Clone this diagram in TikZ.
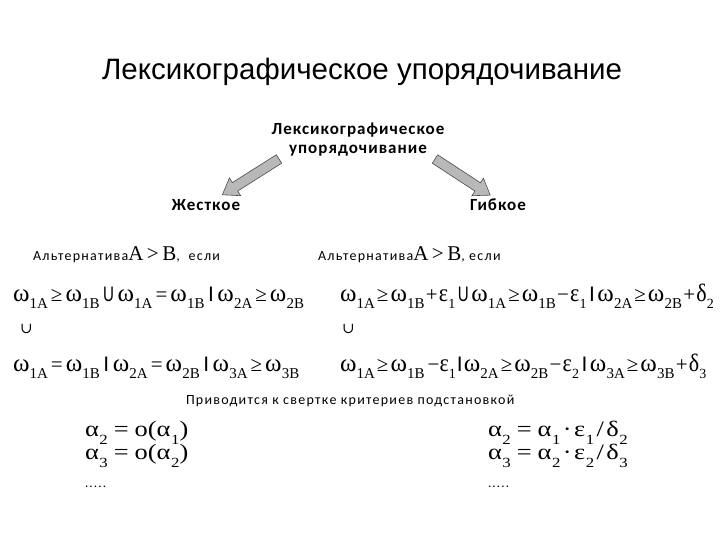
\documentclass[tikz,border=0pt]{standalone}
\usepackage{fontspec}
\setmainfont{Liberation Serif}
\newfontfamily\arialf{Liberation Sans}
\newfontfamily\calf{Carlito}
\newfontfamily\calsp{Carlito}[LetterSpace=9]
\newfontfamily\tmsf{Liberation Serif}
\newfontfamily\djv{DejaVu Serif}
\newcommand\wsb[2]{#1\kern0.2pt\raisebox{-0.3em}{\fontsize{15}{15}\selectfont #2}}
\newcommand\wv[1]{\wsb{ω}{#1}}
\newcommand\nsb[2]{\scalebox{0.88}[1]{#1}\kern0.2pt\raisebox{-0.3em}{\fontsize{14}{14}\selectfont #2}}
\newcommand\rel[1]{\kern3pt{\fontsize{21}{21}\selectfont #1}\kern3pt}
\newcommand\rrel[1]{\kern2pt{\fontsize{21}{21}\selectfont #1}\kern2pt}
\newcommand\plmi[1]{\kern1.2pt{\fontsize{21}{21}\selectfont #1}\kern1.2pt}
\newcommand\capU{\kern3.5pt\scalebox{0.72}[1]{\arialf\fontsize{21}{21}\selectfont U}\kern3.5pt}
\newcommand\capI{\kern3.5pt{\arialf\fontsize{21}{21}\selectfont I}\kern3.5pt}
\newcommand\rcapU{\kern2.5pt\scalebox{0.72}[1]{\arialf\fontsize{21}{21}\selectfont U}\kern2.5pt}
\newcommand\rcapI{\kern2.5pt{\arialf\fontsize{21}{21}\selectfont I}\kern2.5pt}
\newcommand\asb[2]{#1\kern0.5pt\raisebox{-0.4em}{\fontsize{14}{14}\selectfont #2}}
\newcommand\arel[1]{\kern5pt#1\kern5pt}
\newcommand\aop[1]{\kern2pt#1\kern2pt}
\begin{document}
\begin{tikzpicture}[x=1pt,y=-1pt,
  every node/.style={inner sep=0pt,outer sep=0pt},
  titlest/.style={font=\arialf\fontsize{29.5}{34}\selectfont},
  headst/.style={font=\calf\bfseries\addfontfeature{LetterSpace=6}\fontsize{17}{20}\selectfont, align=center},
  smallst/.style={font=\calsp\fontsize{14}{16}\selectfont, anchor=base west},
  mathst/.style={font=\tmsf\fontsize{25}{30}\selectfont, anchor=base west},
  alphast/.style={font=\tmsf\fontsize{22}{26}\selectfont, anchor=base west},
  blockarrow/.style={draw=black!70, fill=black!28, line width=0.6pt, line join=miter}]
\useasboundingbox[fill=white] (0,0) rectangle (720,540);
\node[titlest, anchor=base] (title) at (362,80) {Лексикографическое упорядочивание};
\node[headst, anchor=base] (sub1) at (358,135) {Лексикографическое};
\node[headst, anchor=base] (sub2) at (358,154) {упорядочивание};
\node[headst, anchor=base] (hard) at (206,211) {Жесткое};
\node[headst, anchor=base] (soft) at (498,211) {Гибкое};
\begin{scope}[shift={(279,159)}, rotate=212.3, x=1pt, y=1pt]
  \draw[blockarrow] (0,-5) -- (52,-5) -- (52,-10.5) -- (67,0) -- (52,10.5) -- (52,5) -- (0,5) -- cycle;
\end{scope}
\begin{scope}[shift={(435,159)}, rotate=-33.2, x=1pt, y=1pt]
  \draw[blockarrow] (0,-5) -- (51,-5) -- (51,-10.5) -- (66,0) -- (51,10.5) -- (51,5) -- (0,5) -- cycle;
\end{scope}
\node[smallst] (altL) at (33,260) {Альтернатива{\tmsf\fontsize{21}{21}\selectfont A\,>\,B},\ \ если};
\node[smallst] (altR) at (318,260) {Альтернатива{\tmsf\fontsize{21}{21}\selectfont A\,>\,B}, если};
\node[mathst] (l1) at (13,301) {\wv{1A}\rel{≥}\wv{1B}\capU\wv{1A}\rel{=}\wv{1B}\capI\wv{2A}\rel{≥}\wv{2B}};
\node[mathst] (lu) at (20,333) {{\djv\fontsize{15}{15}\selectfont ∪}};
\node[mathst] (l2) at (13,371) {\wv{1A}\rel{=}\wv{1B}\capI\wv{2A}\rel{=}\wv{2B}\capI\wv{3A}\rel{≥}\wv{3B}};
\node[mathst] (r1) at (340,301) {\wv{1A}\rrel{≥}\wv{1B}\plmi{+}\nsb{ε}{1}\rcapU\wv{1A}\rrel{≥}\wv{1B}\plmi{−}\nsb{ε}{1}\rcapI\wv{2A}\rrel{≥}\wv{2B}\plmi{+}\nsb{δ}{2}};
\node[mathst] (ru) at (342,333) {{\djv\fontsize{15}{15}\selectfont ∪}};
\node[mathst] (r2) at (340,371) {\wv{1A}\rrel{≥}\wv{1B}\kern3pt{\fontsize{21}{21}\selectfont −}\nsb{ε}{1}\kern1pt{\arialf\fontsize{21}{21}\selectfont I}\kern1pt\wv{2A}\rrel{≥}\wv{2B}\plmi{−}\nsb{ε}{2}\rcapI\wv{3A}\rrel{≥}\wv{3B}\plmi{+}\nsb{δ}{3}};
\node[smallst] (subst) at (186,404) {Приводится к свертке критериев подстановкой};
\node[alphast] (a2) at (85,436) {\scalebox{1.2}[1]{\asb{α}{2}\arel{=}o(\asb{α}{1})}};
\node[alphast] (a3) at (85,459) {\scalebox{1.2}[1]{\asb{α}{3}\arel{=}o(\asb{α}{2})}};
\node[alphast] (ad) at (85,487) {{\calsp\fontsize{13}{13}\selectfont .....}};
\node[alphast] (b2) at (488,436) {\scalebox{1.2}[1]{\asb{α}{2}\arel{=}\asb{α}{1}\aop{·}\asb{ε}{1}\aop{/}\asb{δ}{2}}};
\node[alphast] (b3) at (488,459) {\scalebox{1.2}[1]{\asb{α}{3}\arel{=}\asb{α}{2}\aop{·}\asb{ε}{2}\aop{/}\asb{δ}{3}}};
\node[alphast] (bd) at (488,487) {{\calsp\fontsize{13}{13}\selectfont .....}};
\end{tikzpicture}
\end{document}
